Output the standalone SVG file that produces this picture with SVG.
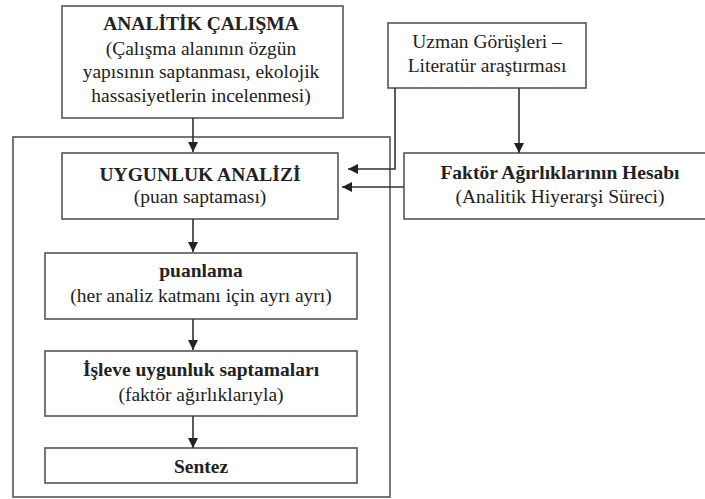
<svg xmlns="http://www.w3.org/2000/svg" width="705" height="499" viewBox="0 0 705 499">
<defs>
<style>
.box{fill:#fff;stroke:#555;stroke-width:1.6}
.t{font-family:'Liberation Serif','DejaVu Serif',serif;font-size:19.5px;fill:#222;text-anchor:middle}
.b{font-weight:bold}
.c{fill:none;stroke:#333;stroke-width:1.6}
</style>
<marker id="ah" viewBox="0 0 10 10" refX="10" refY="5" markerWidth="10" markerHeight="10" markerUnits="userSpaceOnUse" orient="auto">
<path d="M0,0 L10,5 L0,10 Z" fill="#222"/>
</marker>
</defs>
<rect width="705" height="499" fill="#fff"/>
<g id="outer"><rect class="box" x="13" y="137" width="377" height="360"/></g>
<g id="analitik" font-family="Liberation Serif, serif">
<rect class="box" x="62" y="6" width="281" height="112"/>
<text class="t b" x="201" y="30">ANALİTİK ÇALIŞMA</text>
<text class="t" x="201" y="55">(Çalışma alanının özgün</text>
<text class="t" x="201" y="78">yapısının saptanması, ekolojik</text>
<text class="t" x="201" y="102">hassasiyetlerin incelenmesi)</text>
</g>
<g id="uzman">
<rect class="box" x="388" y="23" width="198" height="65"/>
<text class="t" x="487" y="48">Uzman Görüşleri –</text>
<text class="t" x="487" y="72">Literatür araştırması</text>
</g>
<g id="faktor">
<rect class="box" x="404" y="153" width="312" height="66"/>
<text class="t b" x="560" y="179">Faktör Ağırlıklarının Hesabı</text>
<text class="t" x="560" y="203">(Analitik Hiyerarşi Süreci)</text>
</g>
<g id="uygunluk">
<rect class="box" x="62" y="153" width="276" height="66"/>
<text class="t b" x="200" y="181">UYGUNLUK ANALİZİ</text>
<text class="t" x="200" y="203">(puan saptaması)</text>
</g>
<g id="puanlama">
<rect class="box" x="45" y="253" width="312" height="66"/>
<text class="t b" x="201" y="277">puanlama</text>
<text class="t" x="201" y="302">(her analiz katmanı için ayrı ayrı)</text>
</g>
<g id="isleve">
<rect class="box" x="45" y="351" width="312" height="65"/>
<text class="t b" x="201" y="376">İşleve uygunluk saptamaları</text>
<text class="t" x="201" y="401">(faktör ağırlıklarıyla)</text>
</g>
<g id="sentez">
<rect class="box" x="45" y="448" width="312" height="35"/>
<text class="t b" x="201" y="473">Sentez</text>
</g>
<g id="connectors">
<path class="c" d="M193,118 V152" marker-end="url(#ah)"/>
<path class="c" d="M193,219 V252" marker-end="url(#ah)"/>
<path class="c" d="M193,319 V350" marker-end="url(#ah)"/>
<path class="c" d="M193,416 V448" marker-end="url(#ah)"/>
<path class="c" d="M519,88 V153" marker-end="url(#ah)"/>
<path class="c" d="M395,88 V169 H348" marker-end="url(#ah)"/>
<path class="c" d="M404,187 H342" marker-end="url(#ah)"/>
</g>
</svg>
